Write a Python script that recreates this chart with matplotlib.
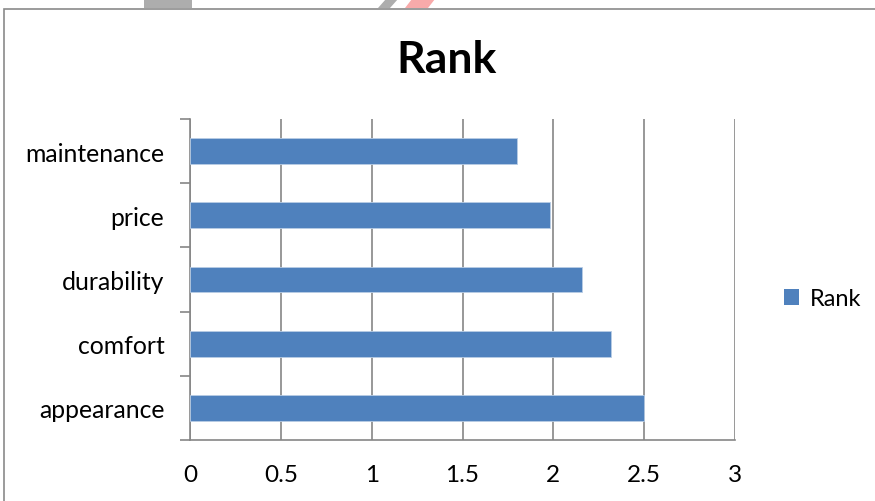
import matplotlib
matplotlib.use("Agg")
import matplotlib.pyplot as plt
from matplotlib.patches import Rectangle, Polygon, Patch

categories = ["appearance", "comfort", "durability", "price", "maintenance"]
values = [2.50, 2.32, 2.16, 1.98, 1.80]
xticks = [0, 0.5, 1, 1.5, 2, 2.5, 3]
xtick_labels = ["0", "0.5", "1", "1.5", "2", "2.5", "3"]
title = "Rank"
series_name = "Rank"

plt.rcParams['font.family'] = ['Lato', 'DejaVu Sans']
W, H = 875, 502
fig = plt.figure(figsize=(W / 100, H / 100), dpi=100)
fig.patch.set_facecolor("white")

# watermark fragments and chart border (figure pixel coords)
def fx(x): return x / W
def fy(y): return 1 - y / H
fig.patches.append(Rectangle((fx(144), fy(9)), (192 - 144) / W, 9 / H, transform=fig.transFigure,
                             facecolor="#adadad", edgecolor="none", zorder=0))
fig.patches.append(Polygon([(fx(378), fy(9)), (fx(386), fy(0)), (fx(398), fy(0)), (fx(390), fy(9))],
                           closed=True, transform=fig.transFigure, facecolor="#adadad", edgecolor="none", zorder=0))
fig.patches.append(Polygon([(fx(405), fy(9)), (fx(412), fy(0)), (fx(435), fy(0)), (fx(428), fy(9))],
                           closed=True, transform=fig.transFigure, facecolor="#f8aaaa", edgecolor="none", zorder=0))
fig.patches.append(Rectangle((fx(3.5), fy(H + 5)), (W + 10) / W, (H + 5 - 9.5) / H, transform=fig.transFigure,
                             facecolor="none", edgecolor="#8a8a8a", linewidth=1.2, zorder=1))

left, right, top, bottom = 190, 735, 120, 441
ax = fig.add_axes([left / W, 1 - bottom / H, (right - left) / W, (bottom - top) / H])
ax.set_facecolor("none")

ypos = list(range(len(categories)))
ax.barh(ypos, values, height=0.40, color="#4f81bd", edgecolor="#b9cde5", linewidth=0.6, zorder=3)

ax.set_xlim(0, 3)
ax.set_ylim(-0.5, len(categories) - 0.5)
ax.set_xticks(xticks)
ax.set_xticklabels(xtick_labels, fontsize=17.5)
ax.set_yticks(ypos)
ax.set_yticklabels(categories, fontsize=17.8)
ax.tick_params(axis="y", length=0, pad=18.5)
ax.tick_params(axis="x", length=0, pad=17)
ax.set_yticks([i - 0.5 for i in range(len(categories) + 1)], minor=True)
ax.tick_params(axis="y", which="minor", length=7, color="#868686", width=1.2)
ax.set_xticks(xticks, minor=True)
ax.tick_params(axis="x", which="minor", length=7, color="#868686", width=1.2)
ax.grid(axis="x", which="major", color="#868686", linewidth=1.2, zorder=0)

for s in ["top", "right"]:
    ax.spines[s].set_visible(False)
for s in ["left", "bottom"]:
    ax.spines[s].set_color("#868686")
    ax.spines[s].set_linewidth(1.2)

fig.text(447 / W, 1 - 60 / H, title, fontsize=32, fontweight="bold", ha="center", va="center")

fig.legend(handles=[Patch(facecolor="#4f81bd", label=series_name)], loc="center left",
           bbox_to_anchor=(784 / W, 1 - 300 / H), frameon=False, fontsize=17,
           borderpad=0, borderaxespad=0,
           handlelength=0.65, handleheight=0.65, handletextpad=0.45)

fig.savefig("out.png", dpi=100)
